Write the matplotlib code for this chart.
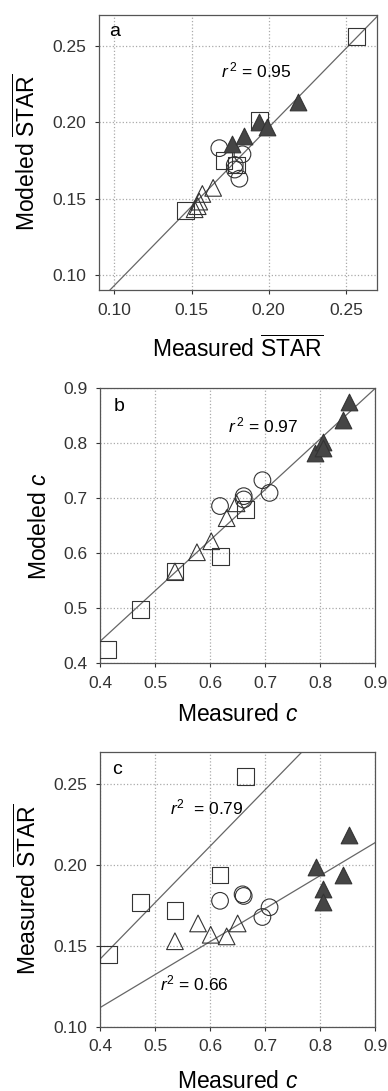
import numpy as np
import matplotlib.pyplot as plt

plt.rcParams['font.family'] = ['Liberation Sans', 'DejaVu Sans']
plt.rcParams['mathtext.fontset'] = 'custom'
plt.rcParams['mathtext.rm'] = 'Liberation Sans'
plt.rcParams['mathtext.it'] = 'Liberation Sans:italic'

# panel a: measured STAR vs modeled STAR
a_sq_x = [0.146, 0.257, 0.194, 0.171, 0.179]
a_sq_y = [0.142, 0.256, 0.201, 0.175, 0.172]
a_tri_x = [0.154, 0.157, 0.155, 0.164, 0.152]
a_tri_y = [0.145, 0.153, 0.148, 0.157, 0.143]
a_cir_x = [0.168, 0.183, 0.178, 0.178, 0.181]
a_cir_y = [0.183, 0.179, 0.172, 0.169, 0.163]
a_fil_x = [0.176, 0.184, 0.194, 0.199, 0.219]
a_fil_y = [0.186, 0.191, 0.200, 0.197, 0.213]

# panel b: measured c vs modeled c
b_sq_x = [0.414, 0.474, 0.536, 0.619, 0.664]
b_sq_y = [0.425, 0.498, 0.567, 0.594, 0.680]
b_tri_x = [0.536, 0.576, 0.602, 0.630, 0.648]
b_tri_y = [0.567, 0.602, 0.622, 0.664, 0.691]
b_cir_x = [0.618, 0.661, 0.661, 0.695, 0.708]
b_cir_y = [0.686, 0.704, 0.698, 0.733, 0.710]
b_fil_x = [0.791, 0.806, 0.806, 0.842, 0.852]
b_fil_y = [0.782, 0.803, 0.791, 0.842, 0.876]

# panel c: measured c vs measured STAR
c_sq_x = [0.415, 0.474, 0.536, 0.618, 0.664]
c_sq_y = [0.145, 0.177, 0.172, 0.194, 0.255]
c_tri_x = [0.536, 0.578, 0.601, 0.630, 0.650]
c_tri_y = [0.153, 0.164, 0.157, 0.156, 0.164]
c_cir_x = [0.618, 0.659, 0.661, 0.695, 0.708]
c_cir_y = [0.178, 0.182, 0.181, 0.168, 0.174]
c_fil_x = [0.792, 0.806, 0.806, 0.842, 0.853]
c_fil_y = [0.199, 0.185, 0.177, 0.194, 0.219]

# fitted lines: (x0, y0, x1, y1)
fit_a = (0.097, 0.09, 0.271, 0.27)
fit_b = (0.4, 0.44, 0.9, 0.9)
fit_c_sq = (0.4, 0.142, 0.9, 0.3165)
fit_c_all = (0.4, 0.112, 0.9, 0.214)

EDGE = '#333333'
FILL = '#454545'
LINE = '#666666'
MS = 12


def draw_points(ax, sx, sy, tx, ty, cx, cy, fx, fy):
    kw = dict(s=MS**2, edgecolors=EDGE, linewidths=0.8, zorder=3)
    ax.scatter(sx, sy, marker='s', facecolors='none', **kw)
    ax.scatter(tx, ty, marker='^', facecolors='none', **kw)
    ax.scatter(cx, cy, marker='o', facecolors='none', **kw)
    ax.scatter(fx, fy, marker='^', facecolors=FILL, **kw)


def draw_fit(ax, f):
    ax.plot([f[0], f[2]], [f[1], f[3]], color=LINE, linewidth=0.9, zorder=2)


def style(ax, xlim, ylim, xt, yt, xf, yf):
    ax.set_xlim(xlim)
    ax.set_ylim(ylim)
    ax.set_xticks(xt)
    ax.set_yticks(yt)
    ax.set_xticklabels([xf % t for t in xt])
    ax.set_yticklabels([yf % t for t in yt])
    ax.grid(True, linestyle=':', color='#aaaaaa', linewidth=0.9)
    ax.set_axisbelow(True)
    ax.tick_params(labelsize=12.5, colors='#333333', length=3, pad=6, direction='out')
    for sp in ax.spines.values():
        sp.set_color('#555555')
        sp.set_linewidth(0.9)


fig = plt.figure(figsize=(3.88, 10.91), dpi=100)
ax_a = fig.add_axes([0.255, 0.734, 0.716, 0.252])
ax_b = fig.add_axes([0.258, 0.392, 0.709, 0.252])
ax_c = fig.add_axes([0.258, 0.0587, 0.709, 0.252])

ticks_star = [0.10, 0.15, 0.20, 0.25]
ticks_c = [0.4, 0.5, 0.6, 0.7, 0.8, 0.9]

# a
draw_fit(ax_a, fit_a)
draw_points(ax_a, a_sq_x, a_sq_y, a_tri_x, a_tri_y, a_cir_x, a_cir_y, a_fil_x, a_fil_y)
style(ax_a, (0.09, 0.27), (0.09, 0.27), ticks_star, ticks_star, '%.2f', '%.2f')
ax_a.text(0.035, 0.94, 'a', transform=ax_a.transAxes, fontsize=14, va='center', ha='left')
ax_a.text(0.44, 0.80, '$r^{\\,2}$ = 0.95', transform=ax_a.transAxes, fontsize=12.5, va='center')
ax_a.set_xlabel('Measured $\\overline{\\mathrm{STAR}}$', fontsize=16.5, labelpad=13)
ax_a.set_ylabel('Modeled $\\overline{\\mathrm{STAR}}$', fontsize=16.5, labelpad=9)

# b
draw_fit(ax_b, fit_b)
draw_points(ax_b, b_sq_x, b_sq_y, b_tri_x, b_tri_y, b_cir_x, b_cir_y, b_fil_x, b_fil_y)
style(ax_b, (0.4, 0.9), (0.4, 0.9), ticks_c, ticks_c, '%.1f', '%.1f')
ax_b.text(0.05, 0.935, 'b', transform=ax_b.transAxes, fontsize=14, va='center', ha='left')
ax_b.text(0.465, 0.865, '$r^{\\,2}$ = 0.97', transform=ax_b.transAxes, fontsize=12.5, va='center')
ax_b.set_xlabel('Measured $c$', fontsize=16.5, labelpad=9)
ax_b.set_ylabel('Modeled $c$', fontsize=16.5, labelpad=9)

# c
draw_fit(ax_c, fit_c_sq)
draw_fit(ax_c, fit_c_all)
draw_points(ax_c, c_sq_x, c_sq_y, c_tri_x, c_tri_y, c_cir_x, c_cir_y, c_fil_x, c_fil_y)
style(ax_c, (0.4, 0.9), (0.10, 0.27), ticks_c, ticks_star, '%.1f', '%.2f')
ax_c.text(0.045, 0.935, 'c', transform=ax_c.transAxes, fontsize=14, va='center', ha='left')
ax_c.text(0.255, 0.80, '$r^{2}$  = 0.79', transform=ax_c.transAxes, fontsize=12.5, va='center')
ax_c.text(0.218, 0.16, '$r^{2}$ = 0.66', transform=ax_c.transAxes, fontsize=12.5, va='center')
ax_c.set_xlabel('Measured $c$', fontsize=16.5, labelpad=11)
ax_c.set_ylabel('Measured $\\overline{\\mathrm{STAR}}$', fontsize=16.5, labelpad=9)

fig.savefig('out.png', dpi=100)
